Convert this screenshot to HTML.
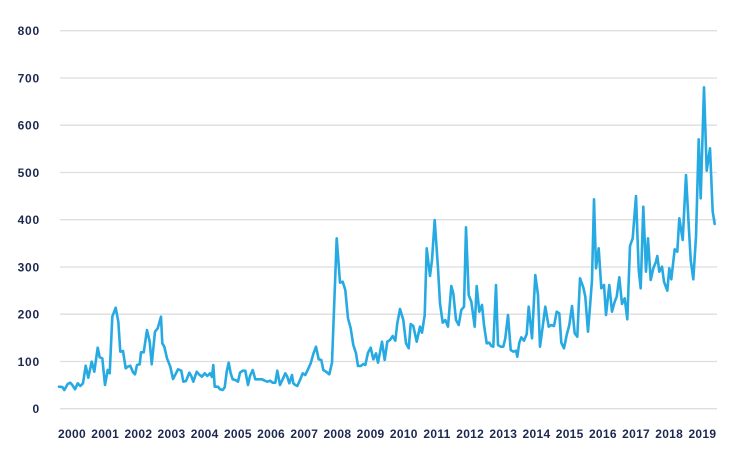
<!DOCTYPE html>
<html>
<head>
<meta charset="utf-8">
<style>
  html,body{margin:0;padding:0;background:#fff;}
  svg{display:block;}
  .yl{font-family:"Liberation Sans",sans-serif;font-weight:bold;font-size:12px;fill:#1d2850;letter-spacing:0.8px;}
  .xl{font-family:"Liberation Sans",sans-serif;font-weight:bold;font-size:12px;fill:#1d2850;letter-spacing:0.3px;}
</style>
</head>
<body>
<svg width="735" height="460" viewBox="0 0 735 460" xmlns="http://www.w3.org/2000/svg">
  <g stroke="#dedede" stroke-width="1.3">
    <line x1="60" y1="30.7" x2="717" y2="30.7"/>
    <line x1="60" y1="78" x2="717" y2="78"/>
    <line x1="60" y1="125.2" x2="717" y2="125.2"/>
    <line x1="60" y1="172.5" x2="717" y2="172.5"/>
    <line x1="60" y1="219.7" x2="717" y2="219.7"/>
    <line x1="60" y1="267" x2="717" y2="267"/>
    <line x1="60" y1="314.2" x2="717" y2="314.2"/>
    <line x1="60" y1="361.5" x2="717" y2="361.5"/>
    <line x1="60" y1="408.7" x2="717" y2="408.7"/>
  </g>
  <g class="yl" text-anchor="end">
    <text x="40" y="35">800</text>
    <text x="40" y="82.3">700</text>
    <text x="40" y="129.5">600</text>
    <text x="40" y="176.8">500</text>
    <text x="40" y="224">400</text>
    <text x="40" y="271.3">300</text>
    <text x="40" y="318.5">200</text>
    <text x="40" y="365.8">100</text>
    <text x="40" y="413">0</text>
  </g>
  <g class="xl" text-anchor="middle">
    <text x="72" y="438">2000</text>
    <text x="105.2" y="438">2001</text>
    <text x="138.4" y="438">2002</text>
    <text x="171.5" y="438">2003</text>
    <text x="204.7" y="438">2004</text>
    <text x="237.9" y="438">2005</text>
    <text x="271.1" y="438">2006</text>
    <text x="304.3" y="438">2007</text>
    <text x="337.4" y="438">2008</text>
    <text x="370.6" y="438">2009</text>
    <text x="403.8" y="438">2010</text>
    <text x="437" y="438">2011</text>
    <text x="470.2" y="438">2012</text>
    <text x="503.3" y="438">2013</text>
    <text x="536.5" y="438">2014</text>
    <text x="569.7" y="438">2015</text>
    <text x="602.9" y="438">2016</text>
    <text x="636.1" y="438">2017</text>
    <text x="669.2" y="438">2018</text>
    <text x="702.4" y="438">2019</text>
  </g>
  <polyline fill="none" stroke="#27aae1" stroke-width="2.6" stroke-linejoin="round" stroke-linecap="round" points="
59,386.7 62.3,387 64.3,390 67.7,384 70.3,382.7 72.3,385 75,389.3 77.7,383.3 80.3,386 83,383.3 85.7,365.7 88.3,377.7 91.7,361.7 94.3,371.7 97.7,347.7 99.7,357.3 102.3,358.3 105,385 107.7,370 109.7,373.3 112.3,316.7 115.7,307.7 118.3,321.7 120.3,351.7 123,351 125.7,368.3 127.7,366.7 130.3,365.7 133,372.3 135,374.3 137,365 139.7,364.3 141,352.3 143.7,352.3 147,330 149.7,341.7 151.7,364.3 155,331.7 157.7,328.3 161,316.7 162.3,343.3 164.3,346.7 167,358.3 170.3,366.7 173,379
176,373.3 178,369.3 181.3,370.7 183.3,381.7 186,381 189.3,372.7 191.3,376 193.3,381.7 196.7,371.7 199.3,374.7 202,376.7 204.7,373.3 207.3,376 210,373.3 212,377 213.3,365 214.7,386.7 218,386.7 220,389.3 222.7,390 224.7,387.3 226.7,371.7 228.7,362.7 230.7,373.3 232.7,379.3 235.3,380 238,381.7 240,372.7 242.7,370.7 245.3,370.7 248,385 250,376 252.7,370 255.3,379.3 258.7,379.3 262,379.3 264.7,380.7 267.3,381.7 270,380.7 272.7,382.7 275.3,382.7 277.3,370.7 280,385 282.7,379.3 285.3,373.3 287.3,376.7 289.3,383.3
292,375 293.3,383.3 295.3,385 297.3,386 300,380 302.7,373.3 305.3,375 308,369.3 310.7,363.3 313.3,354 316,346.7 318.7,359.3 321.3,360 323.3,370 326,371.7 329.3,374.3 332,362.7 336.7,238.3 340,282.7 342.7,281.7 345.3,290 348,318.3 350.7,328.3 353.3,345 356,353.3 358,366 360.7,366 363.3,364 365.3,365 368,352.7 370.7,347.7 373.3,359.3 376,353.3 378,362.7 382,341.7 384.7,360 387.3,341.7 390,340 392.7,336 395.3,340.7 397.3,323.3 400,309 403.3,320 406,343.3 408.7,348.3 410.7,324 413.3,326 416.7,341.7 420,326.7 422,332.7 424.7,315 426.7,248.3 430,276 432,260 434.7,220 438,268.3 440,303.3 442.7,322.7 445.3,320 448,326.7
451.3,286 453.3,293.3 456,320 458.7,325 461.3,310 464,306.7 466,227.3 468.7,295 471.3,301.7 474.7,326.7 476.7,286 479.3,311.7 482,305 484,325 486.7,343.3 489.3,342.7 491.3,346 493.3,346.7 496,285 498,345 500.7,346.7 503.3,346.7 505.3,338.3 508,315 510.7,350 513.3,351.7 516,350.7 517.3,356.7 519.3,342.7 521.3,337.3 524,340.7 526.7,334 528.7,306.7 532,338.3 535.3,275 538,295 540,346.7 542.7,326.7 545.3,306.7 548.7,326.7 551.3,325 554,326 556.7,311.7 559.3,313.3 561.3,342.7 564,348.3 566.7,335 569.3,325 572,306 574.7,333.3 577.3,336.7 580,278.3 583.3,287.3 585.3,296.7 588,331.7
590,306.7 592,280 594,199.3 596,268.3 598.7,248.3 601.3,288.3 604,285 606,315 609.3,285 612,311.7 614.7,301.7 616.7,296.7 619.3,277.3 622,304 624.7,298.3 627.3,319.3 630,246 632.7,238.3 636,196 638.7,270 640.7,288.3 643.3,206.7 646,271.7 648,238.3 650.7,280 653.3,268.3 656,261.7 657.3,256 659.3,271.7 662,266.7 664,281.7 667.3,290.7 669.3,268.3 671.3,279.3 674.7,249.3 677.3,251.7 679.3,218.3 682.7,240 686,175 688.7,225 690.7,260 693.3,279.3 696,236.7 698.7,139.3 700.7,198.3 704,87.3 706.7,170.7 710,148.3 712.7,211.7 714.7,224"/>
</svg>
</body>
</html>
